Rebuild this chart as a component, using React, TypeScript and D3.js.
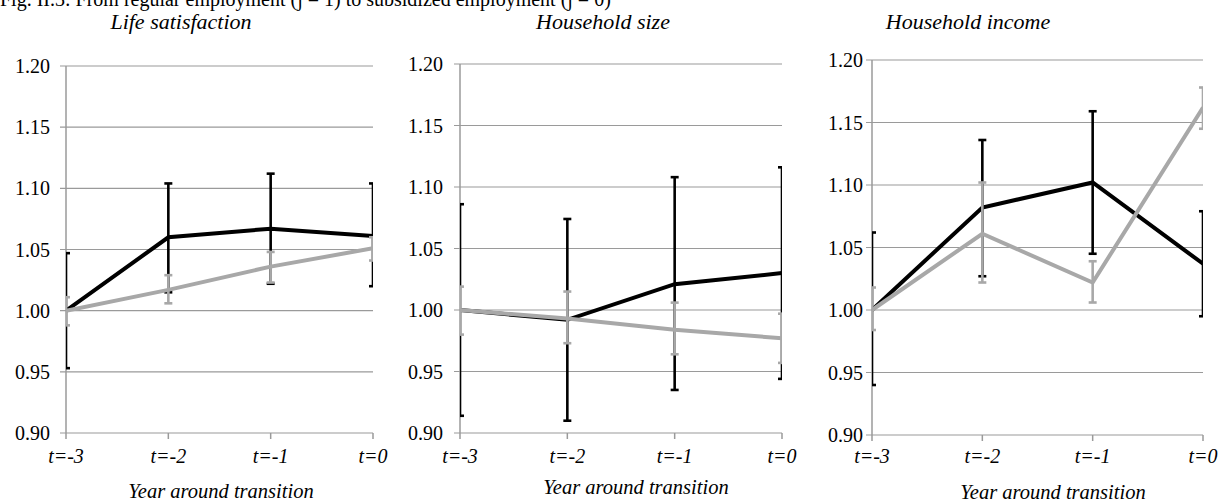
import React from "react";
import * as d3 from "d3";

// categories and ticks
const periods = ["t=-3", "t=-2", "t=-1", "t=0"];
const yTicks = [0.9, 0.95, 1.0, 1.05, 1.1, 1.15, 1.2];
const panelTitles = ["Life satisfaction", "Household size", "Household income"];
const axisTitle = "Year around transition";
const figCaption = "Fig. II.3: From regular employment (j = 1) to subsidized employment (j = 0)";

// life satisfaction
const lifeBlack = [1.0, 1.06, 1.067, 1.061];
const lifeBlackLo = [0.953, 1.015, 1.022, 1.02];
const lifeBlackHi = [1.047, 1.104, 1.112, 1.104];
const lifeGray = [1.0, 1.017, 1.036, 1.051];
const lifeGrayLo = [0.988, 1.006, 1.023, 1.041];
const lifeGrayHi = [1.011, 1.029, 1.048, 1.06];

// household size
const sizeBlack = [1.0, 0.992, 1.021, 1.03];
const sizeBlackLo = [0.914, 0.91, 0.935, 0.944];
const sizeBlackHi = [1.086, 1.074, 1.108, 1.116];
const sizeGray = [1.0, 0.993, 0.984, 0.977];
const sizeGrayLo = [0.98, 0.973, 0.964, 0.957];
const sizeGrayHi = [1.019, 1.015, 1.006, 0.997];

// household income
const incomeBlack = [1.0, 1.082, 1.102, 1.037];
const incomeBlackLo = [0.94, 1.027, 1.045, 0.995];
const incomeBlackHi = [1.062, 1.136, 1.159, 1.079];
const incomeGray = [1.0, 1.061, 1.022, 1.162];
const incomeGrayLo = [0.984, 1.022, 1.006, 1.145];
const incomeGrayHi = [1.018, 1.102, 1.039, 1.178];

const panelData = [
  { black: [lifeBlack, lifeBlackLo, lifeBlackHi], gray: [lifeGray, lifeGrayLo, lifeGrayHi] },
  { black: [sizeBlack, sizeBlackLo, sizeBlackHi], gray: [sizeGray, sizeGrayLo, sizeGrayHi] },
  { black: [incomeBlack, incomeBlackLo, incomeBlackHi], gray: [incomeGray, incomeGrayLo, incomeGrayHi] },
];

// pixel layout of each panel
const layout = [
  { left: 66, right: 373, top: 66, bottom: 433, labelX: 50, titleX: 181, axisTitleX: 221, axisTitleY: 498 },
  { left: 460, right: 782, top: 64, bottom: 433, labelX: 443, titleX: 603, axisTitleX: 636, axisTitleY: 494 },
  { left: 872, right: 1203, top: 60, bottom: 435, labelX: 863, titleX: 968, axisTitleX: 1053, axisTitleY: 499 },
];

const axisGray = "#9a9a9a";
const seriesGray = "#a8a8a8";

function Series({ vals, lo, hi, x, y, color }) {
  const line = d3
    .line<number>()
    .x((d, i) => x(periods[i]))
    .y((d) => y(d));
  return (
    <g>
      <path d={line(vals)} fill="none" stroke={color} strokeWidth={4} strokeLinejoin="miter" />
      {vals.map((v, i) => {
        const cx = x(periods[i]);
        return (
          <g key={i} stroke={color} strokeWidth={2.6}>
            <line x1={cx} x2={cx} y1={y(lo[i])} y2={y(hi[i])} />
            <line x1={cx - 4} x2={cx + 4} y1={y(lo[i])} y2={y(lo[i])} />
            <line x1={cx - 4} x2={cx + 4} y1={y(hi[i])} y2={y(hi[i])} />
          </g>
        );
      })}
    </g>
  );
}

function Panel({ idx }) {
  const L = layout[idx];
  const data = panelData[idx];
  const x = d3.scalePoint<string>().domain(periods).range([L.left, L.right]);
  const y = d3.scaleLinear().domain([0.9, 1.2]).range([L.bottom, L.top]);
  const clipId = `clip${idx}`;
  return (
    <g>
      <defs>
        <clipPath id={clipId}>
          <rect x={L.left} y={0} width={L.right - L.left} height={504} />
        </clipPath>
      </defs>
      {/* gridlines + y ticks */}
      {yTicks.map((t) => (
        <line key={t} x1={L.left - 6} x2={L.right} y1={y(t)} y2={y(t)} stroke={axisGray} strokeWidth={1.2} />
      ))}
      {yTicks.map((t) => (
        <text key={"l" + t} x={L.labelX} y={y(t) + 7} textAnchor="end" fontSize={20}>
          {t.toFixed(2)}
        </text>
      ))}
      {/* y axis */}
      <line x1={L.left} x2={L.left} y1={L.top} y2={L.bottom} stroke={axisGray} strokeWidth={1.5} />
      {/* x ticks */}
      {periods.map((p) => (
        <line key={p} x1={x(p)} x2={x(p)} y1={L.bottom} y2={L.bottom + 6} stroke={axisGray} strokeWidth={1.5} />
      ))}
      {periods.map((p) => (
        <text key={"l" + p} x={x(p)} y={463} textAnchor="middle" fontSize={20} fontStyle="italic">
          {p}
        </text>
      ))}
      <g clipPath={`url(#${clipId})`}>
        <Series vals={data.black[0]} lo={data.black[1]} hi={data.black[2]} x={x} y={y} color="#000" />
        <Series vals={data.gray[0]} lo={data.gray[1]} hi={data.gray[2]} x={x} y={y} color={seriesGray} />
      </g>
      <text x={L.titleX} y={29} textAnchor="middle" fontSize={22} fontStyle="italic">
        {panelTitles[idx]}
      </text>
      <text x={L.axisTitleX} y={L.axisTitleY} textAnchor="middle" fontSize={20.5} fontStyle="italic">
        {axisTitle}
      </text>
    </g>
  );
}

export default function App() {
  return (
    <svg
      width={1220}
      height={504}
      fontFamily="Liberation Serif"
      style={{ position: "absolute", left: 0, top: 0, background: "#fff", fontFamily: "Liberation Serif" }}
    >
      <rect width={1220} height={504} fill="#fff" />
      <text x={0} y={6} fontSize={20}>
        {figCaption}
      </text>
      {[0, 1, 2].map((i) => (
        <Panel key={i} idx={i} />
      ))}
    </svg>
  );
}
